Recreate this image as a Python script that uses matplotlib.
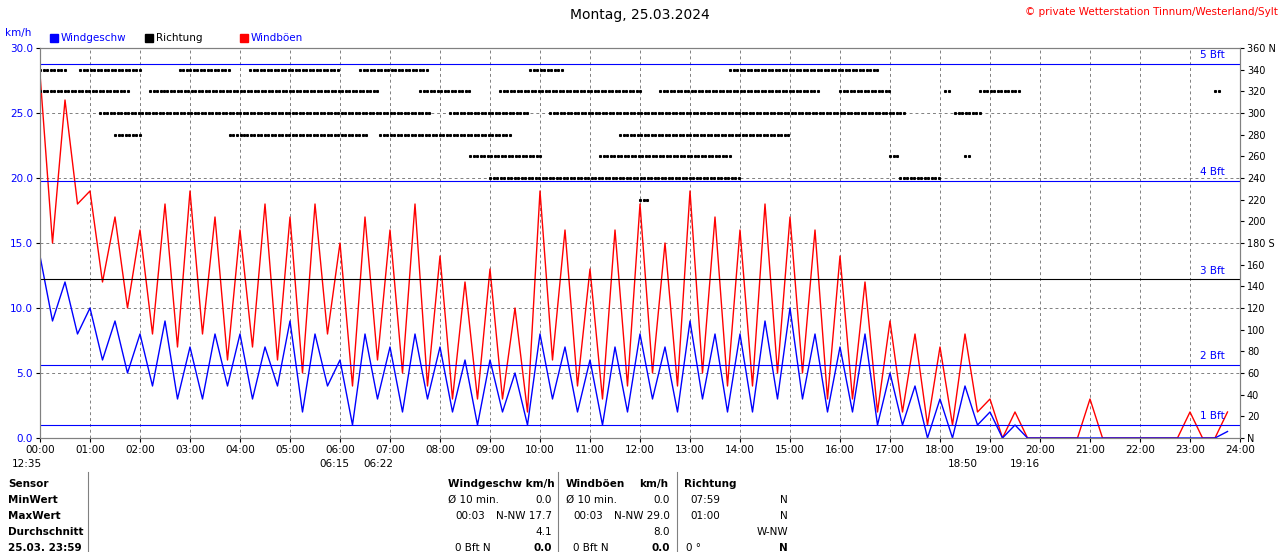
import numpy as np
import matplotlib.pyplot as plt

# 15-minute samples (km/h)
speed = [14, 9, 12, 8, 10, 6, 9, 5, 8, 4, 9, 3, 7, 3, 8, 4, 8, 3, 7, 4, 9, 2, 8, 4,
         6, 1, 8, 3, 7, 2, 8, 3, 7, 2, 6, 1, 6, 2, 5, 1, 8, 3, 7, 2, 6, 1, 7, 2,
         8, 3, 7, 2, 9, 3, 8, 2, 8, 2, 9, 3, 10, 3, 8, 2, 7, 2, 8, 1, 5, 1, 4, 0,
         3, 0, 4, 1, 2, 0, 1, 0, 0, 0, 0, 0, 0, 0, 0, 0, 0, 0, 0, 0, 0, 0, 0, 0.5]
gust = [28, 15, 26, 18, 19, 12, 17, 10, 16, 8, 18, 7, 19, 8, 17, 6, 16, 7, 18, 6, 17, 5, 18, 8,
        15, 4, 17, 6, 16, 5, 18, 4, 14, 3, 12, 3, 13, 3, 10, 2, 19, 6, 16, 4, 13, 3, 16, 4,
        18, 5, 15, 4, 19, 5, 17, 4, 16, 4, 18, 5, 17, 5, 16, 3, 14, 3, 12, 2, 9, 2, 8, 1,
        7, 1, 8, 2, 3, 0, 2, 0, 0, 0, 0, 0, 3, 0, 0, 0, 0, 0, 0, 0, 2, 0, 0, 2]

# direction runs: (start hour, end hour, degrees)
dir_runs = [(0.0, 0.5, 340), (0.8, 2.0, 340), (2.8, 3.8, 340), (4.2, 6.0, 340), (6.4, 7.8, 340),
            (9.8, 10.5, 340), (13.8, 16.8, 340),
            (0.0, 1.8, 320), (2.2, 6.8, 320), (7.6, 8.6, 320), (9.2, 12.0, 320), (12.4, 15.6, 320),
            (16.0, 17.0, 320), (18.1, 18.2, 320), (18.8, 19.6, 320), (23.5, 23.6, 320),
            (1.2, 7.8, 300), (8.2, 9.8, 300), (10.2, 17.3, 300), (18.3, 18.8, 300),
            (1.5, 2.0, 280), (3.8, 6.6, 280), (6.8, 9.4, 280), (11.6, 15.0, 280),
            (8.6, 10.0, 260), (11.2, 13.8, 260), (17.0, 17.2, 260), (18.5, 18.6, 260),
            (9.0, 14.0, 240), (17.2, 18.0, 240), (12.0, 12.2, 220)]
hours = ['00:00', '01:00', '02:00', '03:00', '04:00', '05:00', '06:00', '07:00', '08:00', '09:00',
         '10:00', '11:00', '12:00', '13:00', '14:00', '15:00', '16:00', '17:00', '18:00', '19:00',
         '20:00', '21:00', '22:00', '23:00', '24:00']
bft = [(1.0, '1 Bft'), (5.6, '2 Bft'), (12.2, '3 Bft'), (19.8, '4 Bft'), (28.8, '5 Bft')]

t = np.arange(len(speed)) * 0.25

fig = plt.figure(figsize=(12.8, 5.52), dpi=100)
ax = fig.add_axes([40 / 1280, 114 / 552, 1200 / 1280, 390 / 552])
ax.set_xlim(0, 24)
ax.set_ylim(0, 30)

ax.plot(t, gust, color='red', lw=1)
ax.plot(t, speed, color='blue', lw=1)

ax2 = ax.twinx()
ax2.set_ylim(0, 360)
for a, b, d in dir_runs:
    xs = np.arange(a, b, 0.07)
    ax2.plot(xs, [d] * len(xs), 's', color='black', ms=1.2)

for v, lab in bft:
    ax.axhline(v, color='black' if lab == '3 Bft' else 'blue', lw=0.8)
    ax.text(23.7, v + 0.3, lab, color='blue', fontsize=7.5, ha='right', va='bottom')

ax.set_xticks(range(25))
ax.set_xticklabels(hours, fontsize=7.5)
ax.set_yticks(np.arange(0, 31, 5))
ax.set_yticklabels(['%.1f' % v for v in np.arange(0, 31, 5)], color='blue', fontsize=7.5)
ax.grid(True, color='grey', ls=(0, (3, 3)), lw=0.7)
r_ticks = np.arange(0, 361, 20)
r_labels = [str(v) for v in r_ticks]
r_labels[0] = 'N'
r_labels[9] = '180 S'
r_labels[18] = '360 N'
ax2.set_yticks(r_ticks)
ax2.set_yticklabels(r_labels, fontsize=7)
for a_ in (ax, ax2):
    for s in a_.spines.values():
        s.set_color('grey')
    a_.tick_params(length=3, pad=2)

fig.text(0.5, 1 - 15 / 552, 'Montag, 25.03.2024', ha='center', va='center', fontsize=10)
fig.text(0.998, 1 - 12 / 552, '© private Wetterstation Tinnum/Westerland/Sylt', ha='right',
         va='center', fontsize=7.5, color='red')
fig.text(5 / 1280, 1 - 33 / 552, 'km/h', color='blue', fontsize=7.5, va='center')
for x0, lab, c, tc in [(50, 'Windgeschw', 'blue', 'blue'), (145, 'Richtung', 'black', 'black'),
                       (240, 'Windböen', 'red', 'blue')]:
    fig.patches.append(plt.Rectangle((x0 / 1280, 1 - 42 / 552), 8 / 1280, 8 / 552,
                                     transform=fig.transFigure, color=c))
    fig.text((x0 + 11) / 1280, 1 - 38 / 552, lab, color=tc, fontsize=7.5, va='center')

fig.text(12 / 1280, 1 - 464 / 552, '12:35', fontsize=7.5, va='center')
fig.text(319 / 1280, 1 - 464 / 552, '06:15', fontsize=7.5, va='center')
fig.text(363 / 1280, 1 - 464 / 552, '06:22', fontsize=7.5, va='center')
fig.text(948 / 1280, 1 - 464 / 552, '18:50', fontsize=7.5, va='center')
fig.text(1010 / 1280, 1 - 464 / 552, '19:16', fontsize=7.5, va='center')

rows = ['Sensor', 'MinWert', 'MaxWert', 'Durchschnitt', '25.03. 23:59']
for i, r in enumerate(rows):
    y = 1 - (484 + i * 16) / 552
    fig.text(8 / 1280, y, r, fontsize=7.5, weight='bold', va='center')
for xl in (88, 558, 677):
    fig.add_artist(plt.Line2D([xl / 1280] * 2, [0, 1 - 472 / 552], color='grey', lw=0.8))
cells = [
    (448, 484, 'Windgeschw km/h', 'left', True), (566, 484, 'Windböen', 'left', True),
    (668, 484, 'km/h', 'right', True), (684, 484, 'Richtung', 'left', True),
    (448, 500, 'Ø 10 min.', 'left', False), (552, 500, '0.0', 'right', False),
    (566, 500, 'Ø 10 min.', 'left', False), (670, 500, '0.0', 'right', False),
    (690, 500, '07:59', 'left', False), (788, 500, 'N', 'right', False),
    (455, 516, '00:03', 'left', False), (552, 516, 'N-NW 17.7', 'right', False),
    (573, 516, '00:03', 'left', False), (670, 516, 'N-NW 29.0', 'right', False),
    (690, 516, '01:00', 'left', False), (788, 516, 'N', 'right', False),
    (552, 532, '4.1', 'right', False), (670, 532, '8.0', 'right', False),
    (788, 532, 'W-NW', 'right', False),
    (455, 548, '0 Bft N', 'left', False), (552, 548, '0.0', 'right', True),
    (573, 548, '0 Bft N', 'left', False), (670, 548, '0.0', 'right', True),
    (686, 548, '0 °', 'left', False), (788, 548, 'N', 'right', True),
]
for x, y, s, ha, b in cells:
    fig.text(x / 1280, 1 - y / 552, s, ha=ha, va='center', fontsize=7.5,
             weight='bold' if b else 'normal')

fig.savefig('out.png', dpi=100, facecolor='white')
